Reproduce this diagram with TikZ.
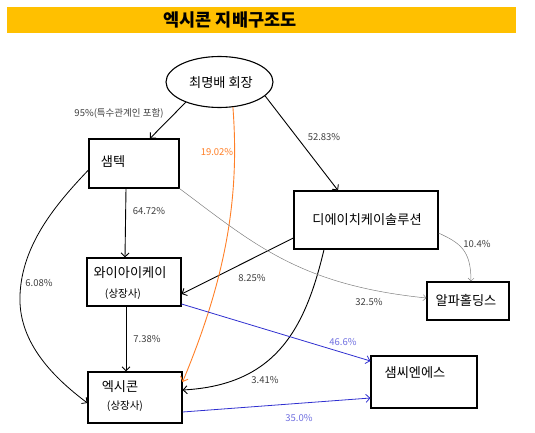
\documentclass[tikz,border=0pt]{standalone}
\usepackage{fontspec}
\setmainfont{Noto Sans CJK KR}
\usetikzlibrary{shapes.geometric,arrows.meta}
\definecolor{titlebar}{HTML}{FFC000}
\definecolor{orangeline}{HTML}{FF7F27}
\definecolor{blueline}{HTML}{2F2FD0}
\definecolor{bluetext}{HTML}{7070E0}
\definecolor{labeltext}{HTML}{404040}
\tikzset{
  box/.style={draw,line width=1.1pt,inner sep=0pt},
  boxtext/.style={font=\fontsize{13.2}{15}\selectfont},
  subtext/.style={font=\fontsize{10.5}{12}\selectfont},
  pct/.style={font=\fontsize{9.5}{11}\selectfont,text=labeltext,inner sep=1pt}
}

\begin{document}
\begin{tikzpicture}[x=1pt,y=-1pt,>={Straight Barb[length=4pt,width=8pt]}]
	\useasboundingbox (0,0) rectangle (535,433);
	\fill[titlebar] (7,7) rectangle (516,33);
	\node[font=\bfseries\fontsize{17.5}{18}\selectfont] (title) at (230,20) {엑시콘 지배구조도};
	
	\begin{scope}[every node/.style={box}]
		\node[ellipse,minimum width=107,minimum height=51] (E) at (219.5,82) {};
		\node[minimum width=90,minimum height=49] (SAM) at (134,163.5) {};
		\node[minimum width=144,minimum height=58] (DHK) at (366,220) {};
		\node[minimum width=82,minimum height=38] (ALP) at (468,301) {};
		\node[minimum width=94,minimum height=48] (YIK) at (134,282) {};
		\node[minimum width=94,minimum height=51] (EXI) at (135,397.5) {};
		\node[minimum width=106,minimum height=52] (SNS) at (424,382) {};
	\end{scope}
	
	\begin{scope}[every node/.style={boxtext}]
		\node (Et) at (221,83) {최명배 회장};
		\node (SAMt) at (113,162) {샘텍};
		\node (DHKt) at (367,220) {디에이치케이솔루션};
		\node (ALPt) at (466,300) {알파홀딩스};
		\node (YIKt) at (130,273) {와이아이케이};
		\node[subtext] (YIKs) at (123,294) {(상장사)};
		\node (EXIt) at (120,387) {엑시콘};
		\node[subtext] (EXIs) at (125,406) {(상장사)};
		\node (SNSt) at (415,373) {샘씨엔에스};
	\end{scope}
	
	\begin{scope}[every edge/.style={draw=black,line width=0.9pt}]
		\path [->] (E.211) edge ([xshift=16pt]SAM.north);
		\path [->] (E.-17) edge ([xshift=-28pt]DHK.north);
		\path [->] ([xshift=-8pt]SAM.south) edge ([xshift=-9pt]YIK.north);
		\path [->] ([xshift=-8pt]YIK.south) edge ([xshift=-9pt]EXI.north);
		\path [->] ([yshift=-18pt]DHK.west) edge ([yshift=-12pt]YIK.east);
	\end{scope}
	
	\draw[->,line width=0.8pt] ([yshift=-6.5pt]SAM.west) .. controls (55,205) and (22,245) .. (20,295)
		.. controls (18,340) and (50,375) .. ([yshift=-5.5pt]EXI.west);
	\draw[->,line width=0.9pt] ([xshift=-42pt]DHK.south) .. controls (305,330) and (275,385) .. ([yshift=7.5pt]EXI.east);
	\draw[->,orangeline,line width=0.9pt] (E.-62) .. controls (240,200) and (225,280) .. ([yshift=15.5pt]EXI.east);
	
	\begin{scope}[blueline,line width=0.8pt]
		\draw[->] ([yshift=-22pt]YIK.east) -- ([yshift=21pt]SNS.west);
		\draw[->] ([yshift=-14.5pt]EXI.east) -- ([yshift=-16pt]SNS.west);
	\end{scope}
	
	\begin{scope}[gray,line width=0.5pt,>={Straight Barb[length=3pt,width=6pt]}]
		\draw[->] (SAM.south east) .. controls (255,245) and (300,285) .. ([yshift=3pt]ALP.west);
		\draw[->] ([yshift=-13pt]DHK.east) .. controls (460,243) and (471,250) .. ([xshift=3pt]ALP.north);
	\end{scope}
	
	\begin{scope}[every node/.style={pct}]
		\node (p95) at (119,113) {95\%(특수관계인 포함)};
		\node[text=orangeline] (p1902) at (217,152) {19.02\%};
		\node (p5283) at (324,137) {52.83\%};
		\node (p6472) at (149,211) {64.72\%};
		\node (p608) at (39,283) {6.08\%};
		\node (p825) at (252,278) {8.25\%};
		\node (p325) at (369,302) {32.5\%};
		\node (p104) at (477,244) {10.4\%};
		\node (p738) at (147,339) {7.38\%};
		\node (p341) at (265,380) {3.41\%};
		\node[text=bluetext] (p466) at (343,342) {46.6\%};
		\node[text=bluetext] (p350) at (299,418) {35.0\%};
	\end{scope}
\end{tikzpicture}
\end{document}
